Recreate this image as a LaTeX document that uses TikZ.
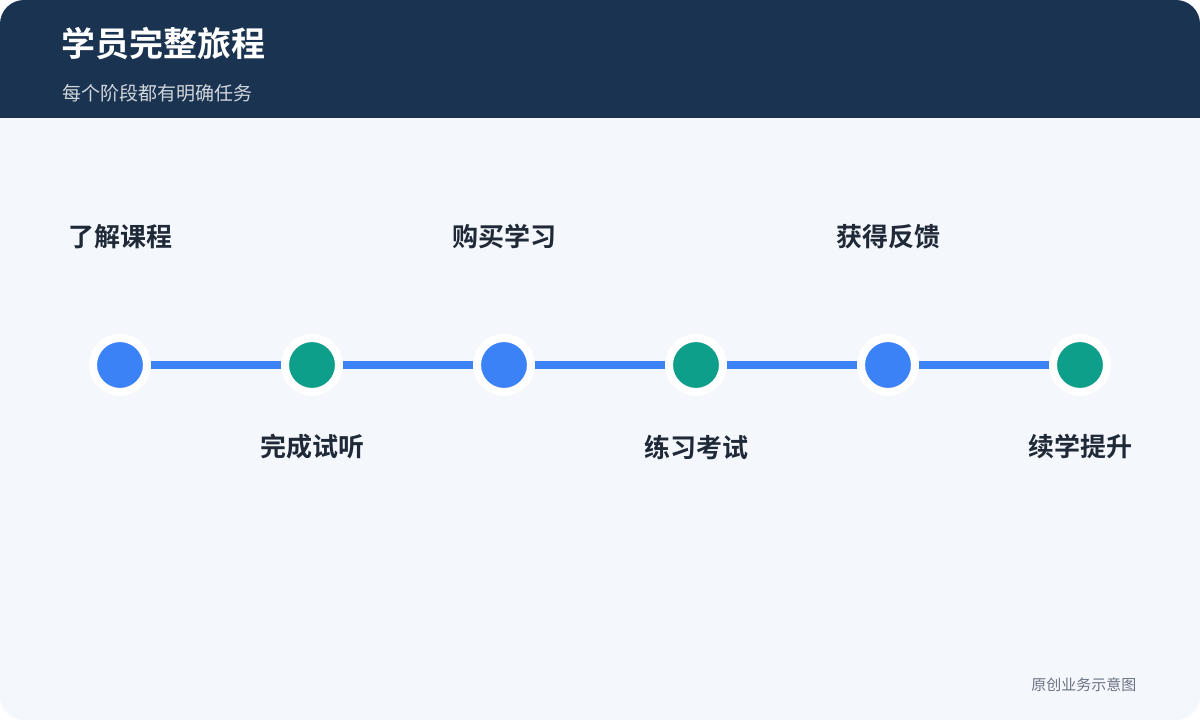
\documentclass[tikz,border=0pt]{standalone}
\usepackage{fontspec}
\setmainfont{Noto Sans CJK SC}
\newfontfamily\cjkb{Noto Sans CJK SC Bold}
\definecolor{hdr}{HTML}{1A3350}
\definecolor{bg}{HTML}{F4F8FD}
\definecolor{blu}{HTML}{3B82F6}
\definecolor{grn}{HTML}{0E9F8A}
\definecolor{lab}{HTML}{1F2937}
\definecolor{foot}{HTML}{6B7280}
\begin{document}
\begin{tikzpicture}[x=1pt,y=-1pt,
  dot/.style={circle,minimum size=54pt,inner sep=0pt,draw=white,line width=8pt},
  bdot/.style={dot,fill=blu},
  gdot/.style={dot,fill=grn},
  lbl/.style={font=\cjkb\fontsize{26}{30}\selectfont,text=lab},
  link/.style={blu,line width=8pt}]
\useasboundingbox (0,0) rectangle (1200,720);
\fill[white] (0,0) rectangle (1200,720);
\fill[bg,rounded corners=24pt] (0,0) rectangle (1200,720);
\begin{scope}
\clip[rounded corners=24pt] (0,0) rectangle (1200,720);
\fill[hdr] (0,0) rectangle (1200,118);
\end{scope}
\node[anchor=west,text=white,font=\cjkb\fontsize{34}{40}\selectfont] (title) at (58,44) {学员完整旅程};
\node[anchor=west,text=white!80!hdr,font=\fontsize{19}{22}\selectfont] (sub) at (59,93) {每个阶段都有明确任务};
\foreach \i/\s in {1/bdot,2/gdot,3/bdot,4/gdot,5/bdot,6/gdot}
  \node[\s] (c\i) at ({120+192*(\i-1)},365) {};
\foreach \a/\b in {1/2,2/3,3/4,4/5,5/6}
  \draw[link] (c\a) -- (c\b);
\node[lbl] (l1) at (120,237) {了解课程};
\node[lbl] (l2) at (312,447) {完成试听};
\node[lbl] (l3) at (504,237) {购买学习};
\node[lbl] (l4) at (696,447) {练习考试};
\node[lbl] (l5) at (888,237) {获得反馈};
\node[lbl] (l6) at (1080,447) {续学提升};
\node[anchor=east,text=foot,font=\fontsize{15}{18}\selectfont] (ft) at (1140,685) {原创业务示意图};
\end{tikzpicture}
\end{document}
